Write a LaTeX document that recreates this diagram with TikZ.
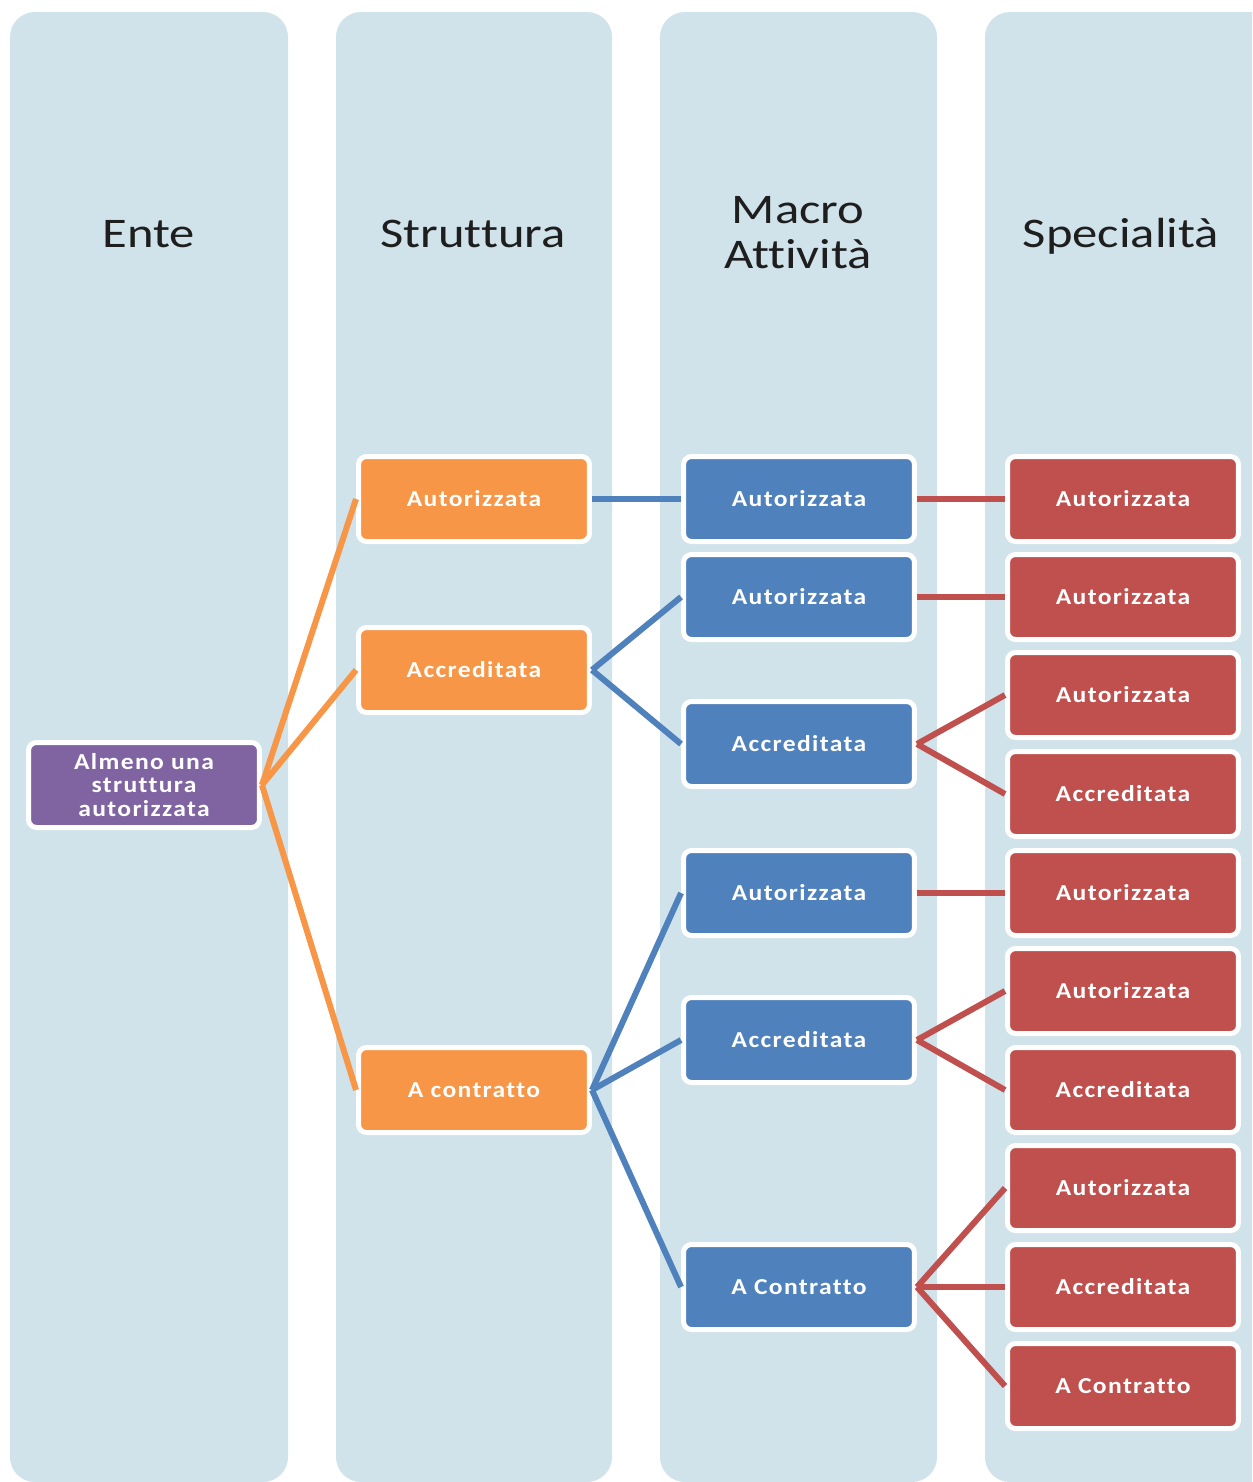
\documentclass[tikz,border=0pt]{standalone}
\usepackage{fontspec}
\setmainfont{Carlito}
\newfontfamily\headfont[FakeStretch=1.2,Ligatures=NoCommon]{Carlito}
\newfontfamily\boxfont[FakeStretch=1.12,LetterSpace=6,Ligatures=NoCommon]{Carlito}
\definecolor{colbg}{HTML}{D0E2EA}
\definecolor{entecol}{HTML}{8064A2}
\definecolor{strcol}{HTML}{F79646}
\definecolor{macrocol}{HTML}{4F81BD}
\definecolor{speccol}{HTML}{C0504D}
\definecolor{headcol}{HTML}{1E1E1E}
\tikzset{
  column/.style={fill=colbg, rounded corners=0.5cm},
  heading/.style={font=\headfont\fontsize{24}{25.6}\selectfont, text=headcol, align=center, inner sep=0pt},
  itembox/.style={draw=white, line width=0.1cm, rounded corners=0.16cm,
    minimum width=4.62cm, minimum height=1.7cm, inner sep=0pt,
    text=white, align=center, font=\boxfont\bfseries\fontsize{13}{13}\selectfont},
  entebox/.style={itembox, fill=entecol, font=\boxfont\bfseries\fontsize{13}{13.2}\selectfont},
  strbox/.style={itembox, fill=strcol},
  macrobox/.style={itembox, fill=macrocol},
  specbox/.style={itembox, fill=speccol},
  link/.style={line width=0.12cm},
  strlink/.style={link, draw=strcol},
  macrolink/.style={link, draw=macrocol},
  speclink/.style={link, draw=speccol}
}
\begin{document}
\begin{tikzpicture}[x=0.02cm, y=-0.02cm]
  \clip (0,0) rectangle (1252,1482);
  \fill[white] (0,0) rectangle (1252,1482);

  % four lanes
  \fill[column] (10,12) rectangle (288,1482);
  \fill[column] (336,12) rectangle (612,1482);
  \fill[column] (660,12) rectangle (937,1482);
  \fill[column] (985,12) rectangle (1290,1482);

  % lane headings
  \node[heading, anchor=base] (hEnte) at (149,247) {Ente};
  \node[heading, anchor=base] (hStr) at (473,247) {Struttura};
  \node[heading] (hMacro) at (798,233) {Macro\\Attività};
  \node[heading, anchor=base] (hSpec) at (1121,247) {Specialità};

  % boxes
  \node[entebox] (ente) at (144,785) {Almeno una\\struttura\\autorizzata};

  \node[strbox] (s1) at (474,499) {Autorizzata};
  \node[strbox] (s2) at (474,670) {Accreditata};
  \node[strbox] (s3) at (474,1090) {A contratto};

  \node[macrobox] (m1) at (799,499) {Autorizzata};
  \node[macrobox] (m2) at (799,597) {Autorizzata};
  \node[macrobox] (m3) at (799,744) {Accreditata};
  \node[macrobox] (m4) at (799,893) {Autorizzata};
  \node[macrobox] (m5) at (799,1040) {Accreditata};
  \node[macrobox] (m6) at (799,1287) {A Contratto};

  \node[specbox] (r1) at (1123,499) {Autorizzata};
  \node[specbox] (r2) at (1123,597) {Autorizzata};
  \node[specbox] (r3) at (1123,695) {Autorizzata};
  \node[specbox] (r4) at (1123,794) {Accreditata};
  \node[specbox] (r5) at (1123,893) {Autorizzata};
  \node[specbox] (r6) at (1123,991) {Autorizzata};
  \node[specbox] (r7) at (1123,1090) {Accreditata};
  \node[specbox] (r8) at (1123,1188) {Autorizzata};
  \node[specbox] (r9) at (1123,1287) {Accreditata};
  \node[specbox] (r10) at (1123,1386) {A Contratto};

  % connectors
  \foreach \t in {s1,s2,s3} \draw[strlink] (ente.east) -- (\t.west);
  \draw[macrolink] (s1.east) -- (m1.west);
  \foreach \t in {m2,m3} \draw[macrolink] (s2.east) -- (\t.west);
  \foreach \t in {m4,m5,m6} \draw[macrolink] (s3.east) -- (\t.west);
  \draw[speclink] (m1.east) -- (r1.west);
  \draw[speclink] (m2.east) -- (r2.west);
  \foreach \t in {r3,r4} \draw[speclink] (m3.east) -- (\t.west);
  \draw[speclink] (m4.east) -- (r5.west);
  \foreach \t in {r6,r7} \draw[speclink] (m5.east) -- (\t.west);
  \foreach \t in {r8,r9,r10} \draw[speclink] (m6.east) -- (\t.west);
\end{tikzpicture}
\end{document}
